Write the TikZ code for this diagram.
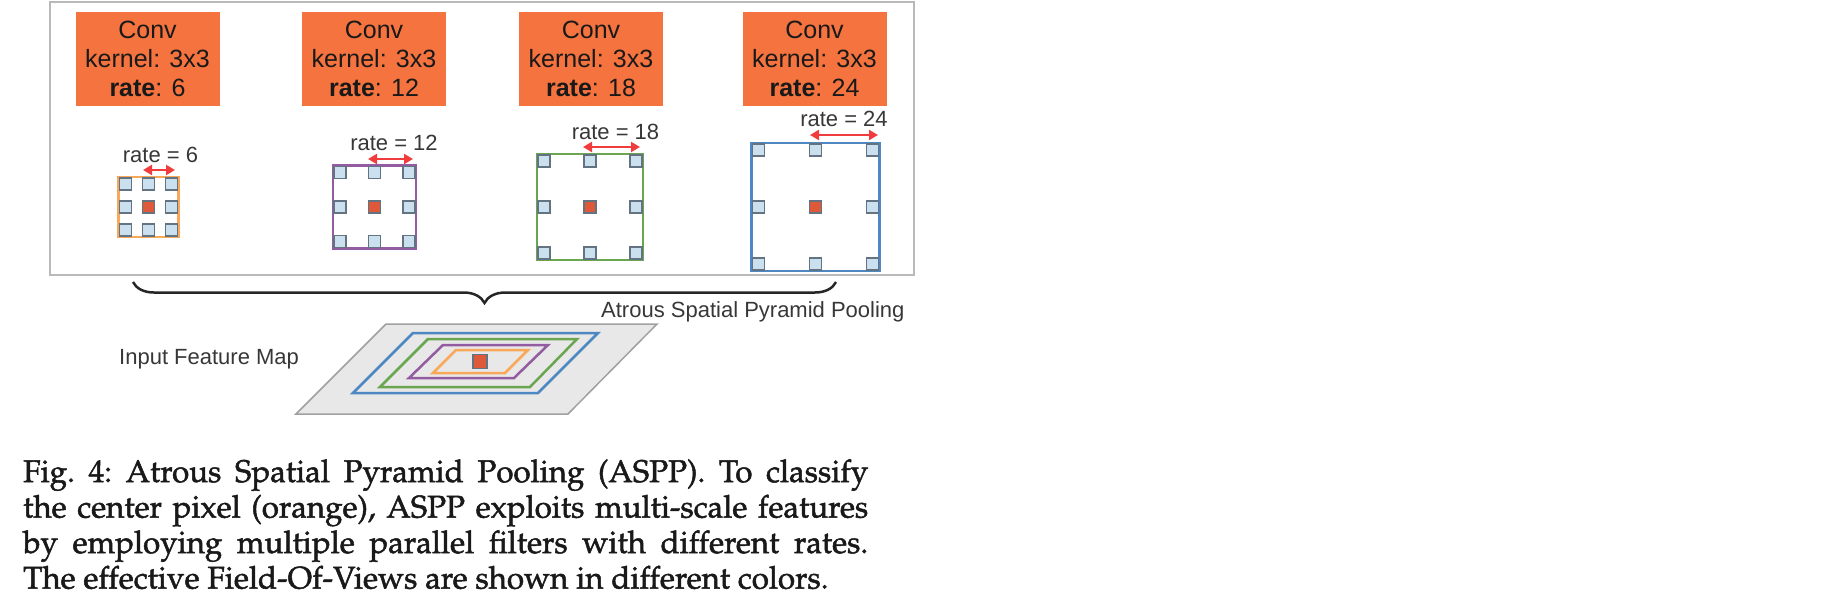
\documentclass[tikz,border=0pt]{standalone}
\usepackage[T1]{fontenc}
\usepackage{fontspec}
\newfontfamily\sfarial{Liberation Sans}
\newcommand\pplfont{\fontencoding{T1}\fontfamily{ppl}\selectfont\frenchspacing}
\newcommand\heavytext[1]{\special{pdf:literal direct 2 Tr 0.5 w}#1\special{pdf:literal direct 0 Tr}}
\usetikzlibrary{arrows.meta,decorations.pathreplacing}
\definecolor{convorange}{RGB}{244,115,63}
\definecolor{cellblue}{RGB}{203,224,238}
\definecolor{cellborder}{RGB}{100,115,130}
\definecolor{centerred}{RGB}{222,88,58}
\definecolor{fovorange}{RGB}{248,168,88}
\definecolor{fovpurple}{RGB}{148,92,160}
\definecolor{fovgreen}{RGB}{106,166,80}
\definecolor{fovblue}{RGB}{78,136,194}
\definecolor{arrowred}{RGB}{240,60,60}
\definecolor{labelgray}{RGB}{55,55,55}
\definecolor{outergray}{RGB}{185,185,185}
\definecolor{mapgray}{RGB}{232,232,232}
\definecolor{mapborder}{RGB}{160,160,160}
\begin{document}
\begin{tikzpicture}[x=1pt,y=-1pt,
  convbox/.style={fill=convorange, minimum width=144pt, minimum height=94pt, inner sep=0pt, align=center,
    font=\sfarial\fontsize{25}{29}\selectfont, text=black!90},
  fovframe/.style={line width=2.5pt, inner sep=0pt},
  cell/.style={draw=cellborder, fill=cellblue, line width=1.1pt, minimum size=12pt, inner sep=0pt},
  centercell/.style={draw=cellborder, fill=centerred, line width=1.1pt, minimum size=12pt, inner sep=0pt},
  ratelabel/.style={font=\sfarial\fontsize{22}{26}\selectfont, text=labelgray, anchor=base, inner sep=0pt},
  ratearrow/.style={draw=arrowred, line width=2.2pt, {Triangle[length=9pt,width=10pt]}-{Triangle[length=9pt,width=10pt]}},
  plainlabel/.style={font=\sfarial\fontsize{22}{26}\selectfont, text=labelgray, anchor=base west, inner sep=0pt},
  bracestyle/.style={draw=black!85, line width=2.5pt, decorate, decoration={brace, amplitude=21pt, mirror}},
  mapframe/.style={line width=2.5pt, line join=miter},
  captionline/.style={anchor=base west, inner sep=0pt, font=\pplfont\fontsize{31.3}{35.5}\selectfont, text=black!90},
]
\useasboundingbox (0,0) rectangle (1846,611);

% outer box
\node[draw=outergray, line width=2pt, minimum width=864pt, minimum height=273pt, inner sep=0pt] (aspp) at (482,138.5) {};

% conv boxes
\node[convbox] (conv1) at (147.5,59) {Conv\\kernel: 3x3\\\textbf{rate}: 6};
\node[convbox] (conv2) at (374,59) {Conv\\kernel: 3x3\\\textbf{rate}: 12};
\node[convbox] (conv3) at (591,59) {Conv\\kernel: 3x3\\\textbf{rate}: 18};
\node[convbox] (conv4) at (814.5,59) {Conv\\kernel: 3x3\\\textbf{rate}: 24};

% field-of-view grids
\foreach \n/\cx/\s/\col in {1/148.5/60/fovorange, 2/374.5/83/fovpurple, 3/590/106/fovgreen, 4/815.5/128/fovblue} {
  \node[fovframe, draw=\col, minimum size=\s*1pt] (fov\n) at (\cx,207) {};
  \pgfmathsetmacro\d{\s/2-7}
  \foreach \i/\j in {-1/-1,0/-1,1/-1,-1/0,1/0,-1/1,0/1,1/1} {
    \node[cell] (fov\n-\i-\j) at ({\cx+\i*\d},{207+\j*\d}) {};
  }
  \node[centercell] (fov\n-c) at (\cx,207) {};
}

% rate labels and arrows
\node[ratelabel] (rl1) at (160.5,162) {rate = 6};
\node[ratelabel] (rl2) at (394,150) {rate = 12};
\node[ratelabel] (rl3) at (615.5,139) {rate = 18};
\node[ratelabel] (rl4) at (844,126) {rate = 24};
\coordinate (ra1) at (143,170); \coordinate (rb1) at (175,170);
\coordinate (ra2) at (368,159); \coordinate (rb2) at (413,159);
\coordinate (ra3) at (583,147); \coordinate (rb3) at (640,147);
\coordinate (ra4) at (810,135); \coordinate (rb4) at (878,135);
\draw[ratearrow] (ra1) -- (rb1);
\draw[ratearrow] (ra2) -- (rb2);
\draw[ratearrow] (ra3) -- (rb3);
\draw[ratearrow] (ra4) -- (rb4);

% brace
\coordinate (bl) at (133,282);
\coordinate (br) at (836,282);
\draw[bracestyle] (bl) -- (br);
\node[plainlabel] (aspplabel) at (601,317) {Atrous Spatial Pyramid Pooling};

% input feature map
\node[plainlabel] (inputlabel) at (119,364) {Input Feature Map};
\draw[fill=mapgray, draw=mapborder, line width=1.5pt, line join=miter] (386,324) -- (657,324) -- (568,414) -- (296,414) -- cycle;
\draw[mapframe, draw=fovblue] (413,333) -- (598,333) -- (538,393) -- (353,393) -- cycle;
\draw[mapframe, draw=fovgreen] (428,339) -- (577,339) -- (530,387) -- (380,387) -- cycle;
\draw[mapframe, draw=fovpurple] (443,345) -- (548,345) -- (514,378) -- (409,378) -- cycle;
\draw[mapframe, draw=fovorange] (456,350) -- (528,350) -- (505,373) -- (433,373) -- cycle;
\node[centercell, minimum size=14pt] (mapc) at (480,361.5) {};

% caption
\node[captionline] (cap1) at (23,482) {\heavytext{\makebox[845pt][s]{Fig.\ 4: Atrous Spatial Pyramid Pooling (ASPP). To classify}}};
\node[captionline] (cap2) at (23,517.5) {\heavytext{\makebox[845pt][s]{the center pixel (orange), ASPP exploits multi-scale features}}};
\node[captionline] (cap3) at (23,553) {\heavytext{\makebox[845pt][s]{by employing multiple parallel filters with different rates.}}};
\node[captionline] (cap4) at (23,588.5) {\heavytext{The effective Field-Of-Views are shown in different colors.}};
\end{tikzpicture}
\end{document}
